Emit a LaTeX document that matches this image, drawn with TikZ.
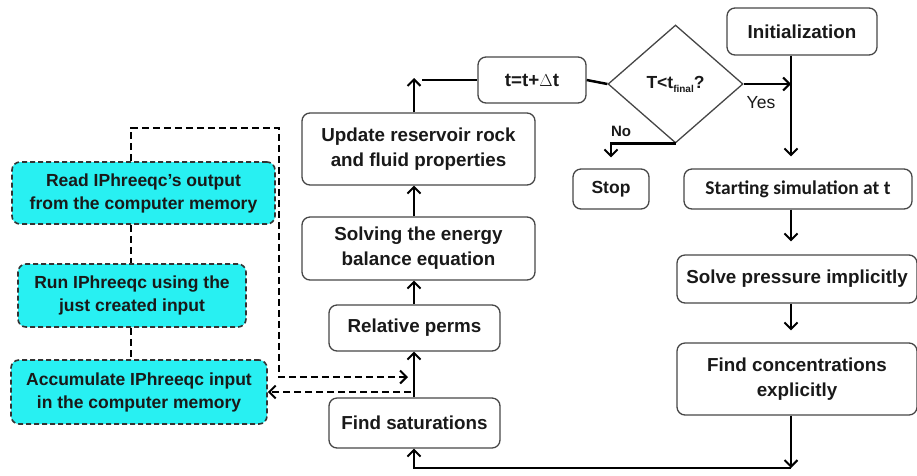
\documentclass[tikz,border=0pt]{standalone}
\usepackage{fontspec}
\setmainfont{Liberation Sans}
\newfontfamily\calfont{Carlito}
\usetikzlibrary{arrows.meta,shapes.geometric}
\definecolor{boxcyan}{RGB}{40,240,242}
\definecolor{edgegray}{RGB}{70,70,70}
\definecolor{inkdark}{RGB}{25,25,25}

\tikzset{
  proc/.style={draw=edgegray, line width=1.3pt, rounded corners=8pt, align=center,
    text=inkdark, font=\bfseries\fontsize{18.8}{25}\selectfont, inner sep=0pt},
  cyanbox/.style={proc, fill=boxcyan, draw=black!80, line width=1.6pt,
    dash pattern=on 5pt off 3pt, font=\bfseries\fontsize{17.5}{23}\selectfont},
  tip/.tip={Straight Barb[length=6.5pt,width=13pt,line width=2pt]},
  flow/.style={line width=2.5pt, -tip},
  plain/.style={line width=2.5pt},
  fb/.style={line width=2.2pt, dash pattern=on 7pt off 4pt},
  lbl/.style={text=inkdark, inner sep=0pt}
}

\begin{document}
\begin{tikzpicture}[x=1pt,y=-1pt]
\useasboundingbox (0,0) rectangle (917,475);

% guide columns for the connectors
\coordinate (xl) at (131,0);
\coordinate (spine) at (414,0);
\coordinate (rx) at (791,0);

% IPhreeqc coupling boxes
\node[cyanbox, minimum width=263pt, minimum height=62pt] (read) at (143.5,193)
  {Read IPhreeqc's output\\from the computer memory};
\node[cyanbox, minimum width=228pt, minimum height=63pt] (run) at (132,295.5)
  {Run IPhreeqc using the\\just created input};
\node[cyanbox, minimum width=256pt, minimum height=64pt] (acc) at (139,392)
  {Accumulate IPhreeqc input\\in the computer memory};

% central column
\node[proc, minimum width=233pt, minimum height=72pt] (upd) at (418.5,149)
  {Update reservoir rock\\and fluid properties};
\node[proc, minimum width=233pt, minimum height=63pt] (solv) at (418.5,248.5)
  {Solving the energy\\balance equation};
\node[proc, minimum width=171pt, minimum height=46pt] (rel) at (414.5,328)
  {Relative perms};
\node[proc, minimum width=171pt, minimum height=50pt] (sat) at (414.5,423)
  {Find saturations};

% time step and decision
\node[proc, minimum width=108pt, minimum height=46pt] (tbox) at (532,80) {t=t+$\Delta$t};
\node[draw=edgegray, line width=1.3pt, diamond, minimum width=135pt, minimum height=118pt,
      inner sep=0pt, text=inkdark, font=\bfseries\fontsize{17.5}{20}\selectfont] (dia) at (675.5,84)
  {T<t\raisebox{-4pt}{\fontsize{10}{10}\selectfont final}?};
\node[proc, minimum width=76pt, minimum height=40pt, font=\bfseries\fontsize{17.5}{20}\selectfont] (stop) at (611,189) {Stop};

% right column
\node[proc, minimum width=150pt, minimum height=47pt] (init) at (802,31.5) {Initialization};
\node[proc, minimum width=228pt, minimum height=40pt, font=\calfont\bfseries\fontsize{19.5}{22}\selectfont] (start) at (798,189)
  {Starting simulation at t};
\node[proc, minimum width=240pt, minimum height=48pt] (solve) at (797,279)
  {Solve pressure implicitly};
\node[proc, minimum width=240pt, minimum height=72pt] (conc) at (797,379)
  {Find concentrations\\explicitly};

% labels on the decision branches
\node[lbl, font=\fontsize{17.5}{18}\selectfont] (yes) at (761,103) {Yes};
\node[lbl, font=\bfseries\fontsize{15}{15}\selectfont] (no) at (621,131) {No};

% free ends of connectors
\coordinate (ctop) at (414,78);
\coordinate (tl) at (422,80);
\coordinate (bot) at (791,468);
\coordinate (fbin) at (408,377);
\coordinate (fbout) at (411,392);

% main loop
\draw[flow] (sat.north -| spine) -- (rel.south -| spine);
\draw[flow] (rel.north -| spine) -- (solv.south -| spine);
\draw[flow] (solv.north -| spine) -- (upd.south -| spine);
\draw[flow] (upd.north -| spine) -- (ctop);
\draw[plain] (tl) -- (tbox.west);
\draw[plain] (tbox.east) -- (dia.west);
\draw[flow] (dia.east) -- (dia.east -| rx);
\draw[flow, shorten >=11pt] (dia.south) -| (stop.north);
\draw[flow, shorten >=12pt] (init.south -| rx) -- (start.north -| rx);
\draw[flow, shorten >=13pt] (start.south -| rx) -- (solve.north -| rx);
\draw[flow, shorten >=12pt] (solve.south -| rx) -- (conc.north -| rx);
\draw[flow] (conc.south -| rx) -- (bot);
\draw[flow] (bot) -| (sat.south -| spine);

% IPhreeqc coupling (dashed)
\draw[fb] (read.south -| xl) -- (run.north -| xl);
\draw[fb] (run.south -| xl) -- (acc.north -| xl);
\draw[fb, -tip] (read.north -| xl) -- (131,128) -- (279,128) -- (279,377) -- (fbin);
\draw[fb, -tip] (fbout) -- (acc.east);
\end{tikzpicture}
\end{document}
